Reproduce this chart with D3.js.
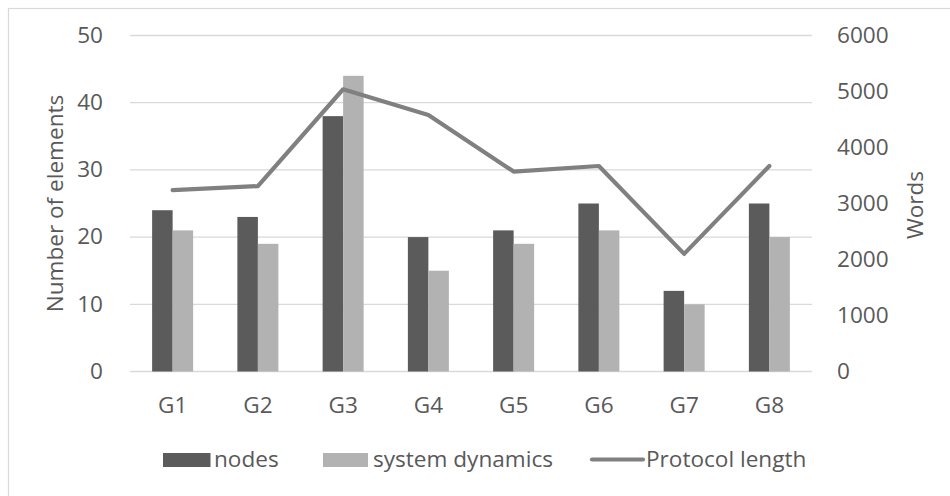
<!DOCTYPE html>
<html>
<head>
<meta charset="utf-8">
<script src="https://cdn.jsdelivr.net/npm/d3@7"></script>
<style>
  html, body { margin: 0; padding: 0; background: #fff; }
  svg { display: block; }
  text { font-family: "Open Sans", "Noto Sans", sans-serif; fill: #595959; }
</style>
</head>
<body>
<svg id="chart" width="950" height="496"></svg>
<script>
// Groups and series
const categories = ["G1", "G2", "G3", "G4", "G5", "G6", "G7", "G8"];
const nodes = [24, 23, 38, 20, 21, 25, 12, 25];
const systemDynamics = [21, 19, 44, 15, 19, 21, 10, 20];
const protocolLength = [3240, 3310, 5040, 4580, 3570, 3670, 2100, 3670];
const leftTicks = [0, 10, 20, 30, 40, 50];
const rightTicks = [0, 1000, 2000, 3000, 4000, 5000, 6000];
const seriesNames = ["nodes", "system dynamics", "Protocol length"];

const colors = { nodes: "#5b5b5b", sd: "#b2b2b2", line: "#808080", grid: "#d9d9d9" };
const FONT = 21, SX = 1.075;

const svg = d3.select("#chart");
const plot = { left: 130, right: 812, top: 35.5, bottom: 371.5 };

// chart frame
svg.append("rect")
  .attr("x", 8.5).attr("y", 8.5).attr("width", 980).attr("height", 520)
  .attr("fill", "#fff").attr("stroke", colors.grid).attr("stroke-width", 1.2);

const x = d3.scaleBand().domain(categories).range([plot.left, plot.right]);
const bw = x.bandwidth();
const barW = 20.5;
const xs = d3.scaleBand().domain(["nodes", "sd"]).range([bw / 2 - barW, bw / 2 + barW]);
const yL = d3.scaleLinear().domain([0, 50]).range([plot.bottom, plot.top]);
const yR = d3.scaleLinear().domain([0, 6000]).range([plot.bottom, plot.top]);

// gridlines
svg.append("g").selectAll("line").data(leftTicks).join("line")
  .attr("x1", plot.left).attr("x2", plot.right)
  .attr("y1", d => yL(d)).attr("y2", d => yL(d))
  .attr("stroke", colors.grid).attr("stroke-width", 1.3);

// bars
const groups = svg.append("g").selectAll("g").data(categories).join("g")
  .attr("transform", d => `translate(${x(d)},0)`);
groups.append("rect")
  .attr("x", xs("nodes")).attr("width", xs.bandwidth())
  .attr("y", (d, i) => yL(nodes[i])).attr("height", (d, i) => yL(0) - yL(nodes[i]))
  .attr("fill", colors.nodes);
groups.append("rect")
  .attr("x", xs("sd")).attr("width", xs.bandwidth())
  .attr("y", (d, i) => yL(systemDynamics[i])).attr("height", (d, i) => yL(0) - yL(systemDynamics[i]))
  .attr("fill", colors.sd);

// protocol length line on the secondary axis
const line = d3.line()
  .x((d, i) => x(categories[i]) + bw / 2)
  .y(d => yR(d));
svg.append("path").datum(protocolLength)
  .attr("d", line)
  .attr("fill", "none").attr("stroke", colors.line)
  .attr("stroke-width", 4.2).attr("stroke-linecap", "round").attr("stroke-linejoin", "round");

// axes
function styleAxis(g) {
  g.select(".domain").remove();
  g.selectAll("text").style("font-size", FONT + "px").attr("fill", "#595959");
}
svg.append("g").attr("transform", `translate(${plot.left},0)`)
  .call(d3.axisLeft(yL).tickValues(leftTicks).tickSize(0).tickPadding(0).tickFormat(d3.format("d")))
  .call(styleAxis)
  .call(g => g.selectAll("text").attr("x", 0).attr("transform", `translate(-27,0) scale(${SX},1)`));

svg.append("g").attr("transform", `translate(${plot.right},0)`)
  .call(d3.axisRight(yR).tickValues(rightTicks).tickSize(0).tickPadding(0).tickFormat(d3.format("d")))
  .call(styleAxis)
  .call(g => g.selectAll("text").attr("x", 0).attr("transform", `translate(25,0) scale(${SX},1)`));

svg.append("g").attr("transform", `translate(0,${plot.bottom})`)
  .call(d3.axisBottom(x).tickSize(0).tickPadding(0))
  .call(styleAxis)
  .call(g => g.selectAll("text").attr("y", 0).attr("dy", null).attr("transform", `translate(0,41.5) scale(${SX},1)`));

// axis titles
const midY = (plot.top + plot.bottom) / 2;
svg.append("text")
  .attr("transform", `translate(63,${midY}) rotate(-90) scale(${SX},1)`)
  .attr("text-anchor", "middle").style("font-size", FONT + "px")
  .text("Number of elements");
svg.append("text")
  .attr("transform", `translate(923,${midY + 1.5}) rotate(-90) scale(${SX},1)`)
  .attr("text-anchor", "middle").style("font-size", FONT + "px")
  .text("Words");

// legend
const legendY = 467;
const legendItems = [
  { name: seriesNames[0], kind: "rect", color: colors.nodes, x0: 163, x1: 210.5, tx: 214 },
  { name: seriesNames[1], kind: "rect", color: colors.sd, x0: 323, x1: 368, tx: 373 },
  { name: seriesNames[2], kind: "line", color: colors.line, x0: 592, x1: 643, tx: 646 }
];
const lg = svg.append("g");
legendItems.forEach(it => {
  if (it.kind === "rect") {
    lg.append("rect").attr("x", it.x0).attr("y", 453).attr("width", it.x1 - it.x0).attr("height", 14)
      .attr("fill", it.color);
  } else {
    lg.append("line").attr("x1", it.x0).attr("x2", it.x1).attr("y1", 459.5).attr("y2", 459.5)
      .attr("stroke", it.color).attr("stroke-width", 4.2).attr("stroke-linecap", "round");
  }
  lg.append("text")
    .attr("transform", `translate(${it.tx},${legendY}) scale(${SX},1)`)
    .style("font-size", FONT + "px")
    .text(it.name);
});
</script>
</body>
</html>
